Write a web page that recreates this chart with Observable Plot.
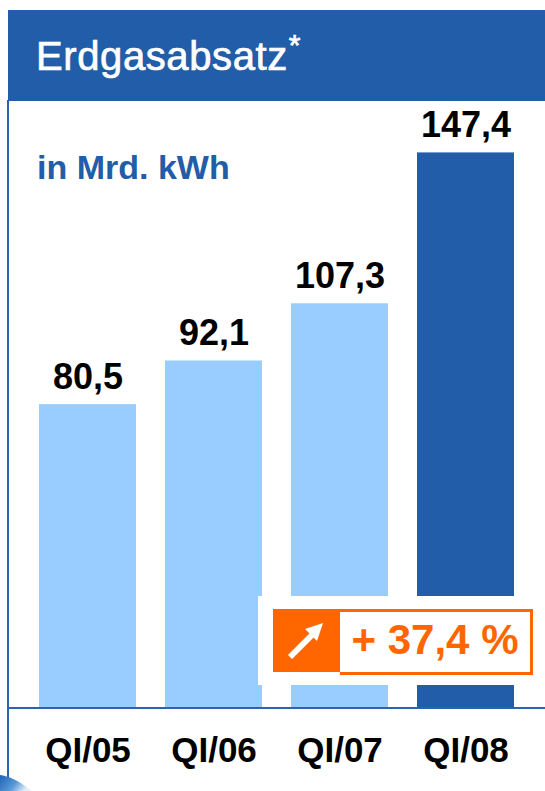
<!DOCTYPE html>
<html>
<head>
<meta charset="utf-8">
<script src="https://cdn.jsdelivr.net/npm/d3@7"></script>
<script src="https://cdn.jsdelivr.net/npm/@observablehq/plot@0.6"></script>
<style>
  html, body { margin: 0; padding: 0; background: #fff; }
  #wrap { position: relative; width: 545px; height: 791px; overflow: hidden; background: #fff; font-family: "Liberation Sans", Arial, sans-serif; }
  #chart { position: absolute; left: 0; top: 0; }
  .abs { position: absolute; }
</style>
</head>
<body>
<div id="wrap">
  <div id="chart"></div>
  <div class="abs" style="left:8px;top:10px;width:537px;height:91px;background:#215DA8;"></div>
  <div class="abs" id="title" style="left:36px;top:36px;color:#fff;font-family:'Liberation Sans',Arial,sans-serif;font-size:40px;line-height:40px;letter-spacing:0.6px;-webkit-text-stroke:0.7px #fff;white-space:nowrap;">Erdgasabsatz<span style="font-size:30px;position:relative;top:-15px;margin-left:1px;">*</span></div>
  <div class="abs" style="left:7px;top:100px;width:2px;height:691px;background:#2B63B0;"></div>
  <div class="abs" style="left:8px;top:707px;width:537px;height:2px;background:#2B63B0;"></div>
  <div class="abs" id="subtitle" style="left:37px;top:148px;color:#215DA8;font-weight:bold;font-size:34px;line-height:38px;white-space:nowrap;">in Mrd. kWh</div>
  <!-- callout -->
  <div class="abs" style="left:258px;top:596px;width:287px;height:89px;background:#fff;"></div>
  <div class="abs" style="left:273px;top:609px;width:67px;height:63px;background:#FF6600;">
    <svg width="67" height="63" viewBox="0 0 67 63">
      <line x1="17" y1="48" x2="42" y2="23" stroke="#fff" stroke-width="6"/>
      <polygon points="50,14 32,20 44,32" fill="#fff"/>
    </svg>
  </div>
  <div class="abs" style="left:340px;top:609px;width:190px;height:60px;border:3px solid #FF6600;border-left:none;background:#fff;"></div>
  <div class="abs" id="pct" style="left:340px;top:612px;width:190px;text-align:center;color:#FF6600;font-weight:bold;font-size:42px;line-height:56px;white-space:nowrap;">+ 37,4 %</div>
  <svg class="abs" style="left:0;top:770px;" width="40" height="21" viewBox="0 0 40 21">
    <defs>
      <linearGradient id="sw" x1="0" y1="0" x2="1" y2="0.4">
        <stop offset="0" stop-color="#1E62B5"/>
        <stop offset="0.6" stop-color="#5B9BD8"/>
        <stop offset="1" stop-color="#E3EFFA"/>
      </linearGradient>
    </defs>
    <path d="M0,5 C8,6 18,10 32,21 L0,21 Z" fill="url(#sw)"/>
  </svg>
</div>
<script>
const quarters = ["QI/05", "QI/06", "QI/07", "QI/08"];
const values = [80.5, 92.1, 107.3, 147.4];
const barColors = ["#99CCFF", "#99CCFF", "#99CCFF", "#215DA8"];

const data = quarters.map((q, i) => ({q, v: values[i], c: barColors[i]}));
const fmt = v => v.toFixed(1).replace(".", ",");

const plot = Plot.plot({
  width: 545,
  height: 791,
  marginTop: 105,
  marginBottom: 84,
  marginLeft: 38,
  marginRight: 29,
  style: {background: "transparent", fontFamily: "'Liberation Sans', Arial, sans-serif", fontSize: "35px", fontWeight: "bold", color: "#000", overflow: "visible"},
  x: {domain: quarters, paddingInner: 0.23, paddingOuter: 0, label: null},
  y: {domain: [0, 160], axis: null},
  marks: [
    Plot.barY(data, {x: "q", y: "v", fill: "c"}),
    Plot.text(data, {x: "q", y: "v", text: d => fmt(d.v), lineAnchor: "bottom", dy: -16, fontSize: 36, fontWeight: "bold", fill: "#000"}),
    Plot.axisX({tickSize: 0, tickPadding: 30, fontSize: 35, fontWeight: "bold", fill: "#000", label: null})
  ]
});
document.getElementById("chart").appendChild(plot);
</script>
</body>
</html>
